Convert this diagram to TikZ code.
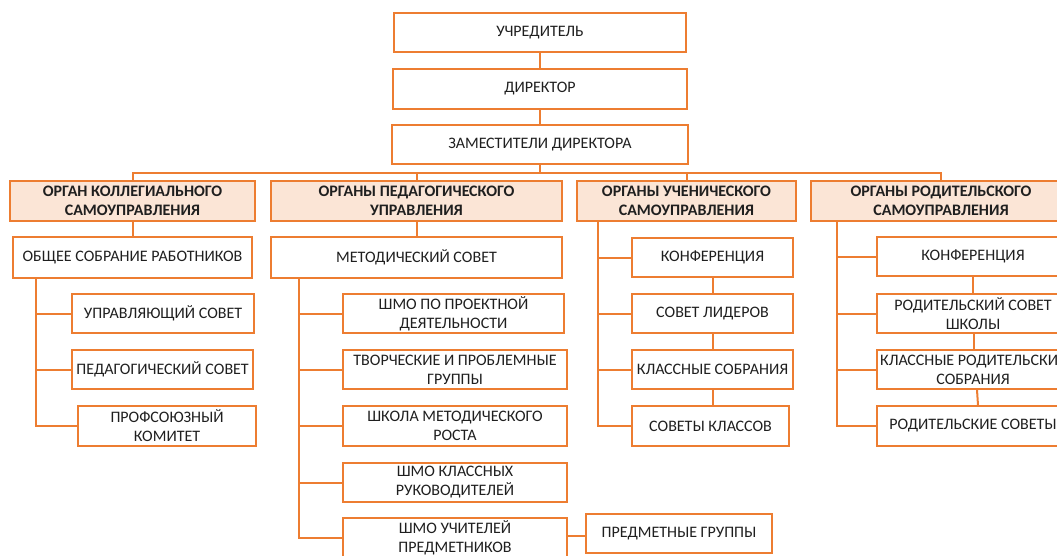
\documentclass[tikz,border=0pt]{standalone}
\usepackage{fontspec}
\setmainfont{Carlito}
\definecolor{orgline}{HTML}{ED7D31}
\definecolor{orgfill}{HTML}{FBE5D6}
\definecolor{txt}{HTML}{1F1F1F}
\begin{document}
\begin{tikzpicture}[x=1pt,y=-1pt,
  box/.style={draw=orgline,line width=1.8pt,fill=white,align=center,inner sep=2pt,
    text=txt,font=\fontsize{16}{19}\selectfont},
  cat/.style={box,fill=orgfill,font=\fontsize{16}{19}\selectfont\bfseries},
  conn/.style={draw=orgline,line width=2pt}]
\clip (0,0) rectangle (1057,555);
\fill[white] (0,0) rectangle (1057,555);
% top
\node[box,minimum width=292,minimum height=39] (uch) at (540,32.5) {УЧРЕДИТЕЛЬ};
\node[box,minimum width=294,minimum height=40] (dir) at (540,89) {ДИРЕКТОР};
\node[box,minimum width=296,minimum height=39] (zam) at (540,144.5) {ЗАМЕСТИТЕЛИ ДИРЕКТОРА};
% categories
\node[cat,minimum width=245,minimum height=40] (c1) at (132.5,201) {ОРГАН КОЛЛЕГИАЛЬНОГО\\САМОУПРАВЛЕНИЯ};
\node[cat,minimum width=291,minimum height=40] (c2) at (416.5,201) {ОРГАНЫ ПЕДАГОГИЧЕСКОГО\\УПРАВЛЕНИЯ};
\node[cat,minimum width=219,minimum height=40] (c3) at (686.5,201) {ОРГАНЫ УЧЕНИЧЕСКОГО\\САМОУПРАВЛЕНИЯ};
\node[cat,minimum width=260,minimum height=40] (c4) at (941,201) {ОРГАНЫ РОДИТЕЛЬСКОГО\\САМОУПРАВЛЕНИЯ};
% column 1
\node[box,minimum width=239,minimum height=41] (a0) at (132.5,257.5) {ОБЩЕЕ СОБРАНИЕ РАБОТНИКОВ};
\node[box,minimum width=182,minimum height=39] (a1) at (163,313.5) {УПРАВЛЯЮЩИЙ СОВЕТ};
\node[box,minimum width=181,minimum height=39] (a2) at (162.5,369.5) {ПЕДАГОГИЧЕСКИЙ СОВЕТ};
\node[box,minimum width=178,minimum height=40] (a3) at (167,426) {ПРОФСОЮЗНЫЙ\\КОМИТЕТ};
% column 2
\node[box,minimum width=291,minimum height=41] (b0) at (416.5,257.5) {МЕТОДИЧЕСКИЙ СОВЕТ};
\node[box,minimum width=221,minimum height=39] (b1) at (453.5,313.5) {ШМО ПО ПРОЕКТНОЙ\\ДЕЯТЕЛЬНОСТИ};
\node[box,minimum width=224,minimum height=39] (b2) at (455,369.5) {ТВОРЧЕСКИЕ И ПРОБЛЕМНЫЕ\\ГРУППЫ};
\node[box,minimum width=224,minimum height=40] (b3) at (455,426) {ШКОЛА МЕТОДИЧЕСКОГО\\РОСТА};
\node[box,minimum width=224,minimum height=39] (b4) at (455,482.5) {ШМО КЛАССНЫХ\\РУКОВОДИТЕЛЕЙ};
\node[box,minimum width=224,minimum height=40] (b5) at (455,538) {ШМО УЧИТЕЛЕЙ\\ПРЕДМЕТНИКОВ};
\node[box,minimum width=186,minimum height=39] (b6) at (679,533.5) {ПРЕДМЕТНЫЕ ГРУППЫ};
% column 3
\node[box,minimum width=161,minimum height=39] (s1) at (712.5,257.5) {КОНФЕРЕНЦИЯ};
\node[box,minimum width=161,minimum height=39] (s2) at (712.5,313.5) {СОВЕТ ЛИДЕРОВ};
\node[box,minimum width=161,minimum height=39] (s3) at (712.5,369.5) {КЛАССНЫЕ СОБРАНИЯ};
\node[box,minimum width=157,minimum height=40] (s4) at (710.5,426) {СОВЕТЫ КЛАССОВ};
% column 4
\node[box,minimum width=192,minimum height=39] (p1) at (973,256.5) {КОНФЕРЕНЦИЯ};
\node[box,minimum width=192,minimum height=39] (p2) at (973,313.5) {РОДИТЕЛЬСКИЙ СОВЕТ\\ШКОЛЫ};
\node[box,minimum width=192,minimum height=39] (p3) at (973,369.5) {КЛАССНЫЕ РОДИТЕЛЬСКИЕ\\СОБРАНИЯ};
\node[box,minimum width=192,minimum height=40] (p4) at (973,426) {РОДИТЕЛЬСКИЕ СОВЕТЫ};
% connectors top
\draw[conn] (uch.south) -- (dir.north);
\draw[conn] (dir.south) -- (zam.north);
\coordinate (bus) at (0,173);
\draw[conn] (zam.south) -- (zam.south |- bus);
\draw[conn] (c1.north) -- (c1.north |- bus) -- (c4.north |- bus) -- (c4.north);
\draw[conn] (c2.north) -- (c2.north |- bus);
\draw[conn] (c3.north) -- (c3.north |- bus);
% column 1
\draw[conn] (c1.south) -- (a0.north);
\coordinate (ta) at ([xshift=24pt]a0.south west);
\draw[conn] (ta) |- (a3.west);
\draw[conn] (a1.west) -- (a1.west -| ta);
\draw[conn] (a2.west) -- (a2.west -| ta);
% column 2
\draw[conn] (c2.south) -- (b0.north);
\coordinate (tb) at ([xshift=29pt]b0.south west);
\draw[conn] (tb) |- (b5.west);
\draw[conn] (b1.west) -- (b1.west -| tb);
\draw[conn] (b2.west) -- (b2.west -| tb);
\draw[conn] (b3.west) -- (b3.west -| tb);
\draw[conn] (b4.west) -- (b4.west -| tb);
\draw[conn] ([yshift=2pt]b5.east) -- ([yshift=2pt]b5.east -| b6.west);
% column 3
\coordinate (tc) at ([xshift=22pt]c3.south west);
\draw[conn] (tc) |- (s4.west);
\draw[conn] (s1.west) -- (s1.west -| tc);
\draw[conn] (s2.west) -- (s2.west -| tc);
\draw[conn] (s3.west) -- (s3.west -| tc);
\draw[conn] (s1.south) -- (s2.north);
\draw[conn] (s2.south) -- (s3.north);
\draw[conn] (s3.south) -- (s3.south |- s4.north);
% column 4
\coordinate (td) at ([xshift=27pt]c4.south west);
\draw[conn] (td) |- (p4.west);
\draw[conn] (p1.west) -- (p1.west -| td);
\draw[conn] (p2.west) -- (p2.west -| td);
\draw[conn] (p3.west) -- (p3.west -| td);
\draw[conn] (p1.south) -- (p2.north);
\draw[conn] ([xshift=1pt]p2.south) -- ([xshift=1pt]p3.north);
\draw[conn] ([xshift=4pt]p3.south) -- ([xshift=5pt]p4.north);
\end{tikzpicture}
\end{document}
